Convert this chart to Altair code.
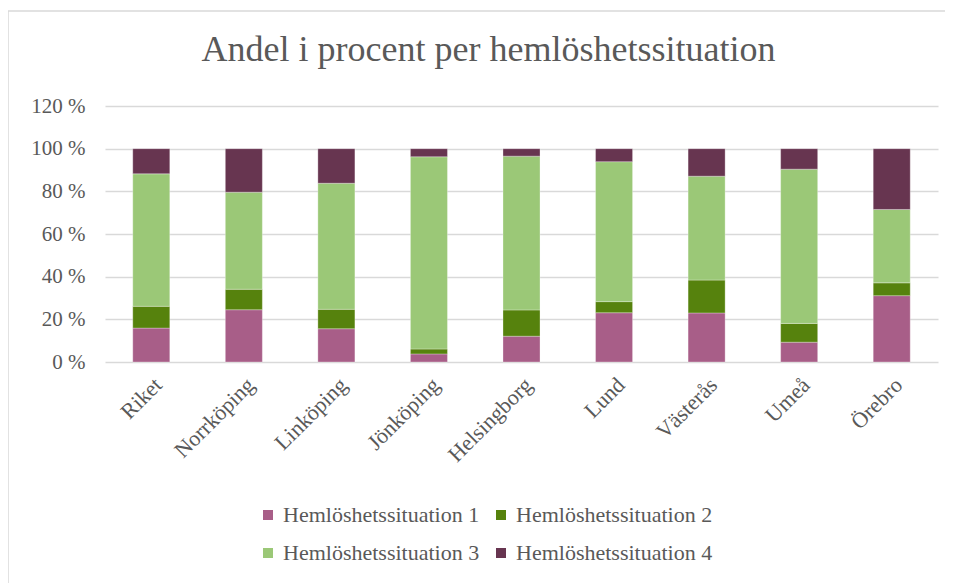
import altair as alt
import pandas as pd

categories = ["Riket", "Norrköping", "Linköping", "Jönköping", "Helsingborg",
              "Lund", "Västerås", "Umeå", "Örebro"]
series_names = ["Hemlöshetssituation 1", "Hemlöshetssituation 2",
                "Hemlöshetssituation 3", "Hemlöshetssituation 4"]
s1 = [15.9, 24.5, 15.6, 3.8, 12.1, 23.1, 23.0, 9.3, 31.1]
s2 = [10.2, 9.6, 9.1, 2.3, 12.3, 5.2, 15.4, 8.8, 6.0]
s3 = [62.1, 45.5, 59.1, 90.1, 72.1, 65.6, 48.7, 72.3, 34.4]
s4 = [11.8, 20.4, 16.2, 3.8, 3.5, 6.1, 12.9, 9.6, 28.5]
y_ticks = [0, 20, 40, 60, 80, 100, 120]
colors = ["#A85E88", "#56820D", "#9BC877", "#673550"]

rows = []
for i, name in enumerate(series_names):
    vals = [s1, s2, s3, s4][i]
    for c, v in zip(categories, vals):
        rows.append({"kategori": c, "serie": name, "idx": i, "andel": v})
df = pd.DataFrame(rows)

FONT = "Liberation Serif"
GRAY = "#595959"

bars = alt.Chart(df).mark_bar(stroke="#ffffff", strokeWidth=0.6, strokeOpacity=0.5).encode(
    x=alt.X("kategori:N", sort=categories,
            scale=alt.Scale(paddingInner=0.6, paddingOuter=0.3),
            axis=alt.Axis(title=None, labelAngle=-45, labelFontSize=22,
                          labelColor=GRAY, labelFont=FONT, ticks=False,
                          domain=False, labelPadding=12)),
    y=alt.Y("andel:Q", stack="zero",
            scale=alt.Scale(domain=[0, 120], nice=False),
            axis=alt.Axis(title=None, values=y_ticks, labelFontSize=21,
                          labelColor=GRAY, labelFont=FONT, ticks=False,
                          domain=False, labelPadding=20,
                          labelExpr="datum.value + ' %'",
                          gridColor="#D9D9D9", gridWidth=1.5)),
    color=alt.Color("serie:N", sort=series_names,
                    scale=alt.Scale(domain=series_names, range=colors),
                    legend=alt.Legend(title=None, orient="none", legendX=152,
                                      legendY=398, columns=2, direction="horizontal",
                                      symbolType="square", symbolSize=100,
                                      symbolStrokeWidth=0, labelFont=FONT,
                                      labelFontSize=22, labelColor=GRAY,
                                      labelLimit=400,
                                      columnPadding=10, rowPadding=16,
                                      labelOffset=4)),
    order=alt.Order("idx:Q", sort="ascending"),
)

border_left = alt.Chart().mark_rule(color="#D9D9D9", strokeWidth=1.5).encode(
    x=alt.value(-97), y=alt.value(-95), y2=alt.value(480))
border_top = alt.Chart().mark_rule(color="#D9D9D9", strokeWidth=1.5).encode(
    x=alt.value(-97), x2=alt.value(850), y=alt.value(-95))

chart = alt.layer(bars, border_left, border_top).properties(
    width=833, height=256,
    autosize=alt.AutoSizeParams(type="none"),
    padding={"left": 97, "top": 98, "right": 7, "bottom": 221},
    title=alt.Title("Andel i procent per hemlöshetssituation", font=FONT,
                    fontSize=36, fontWeight="normal", color=GRAY,
                    anchor="middle", frame="group", dx=-33, offset=-59),
).configure_view(stroke=None)

chart.save("out.html", embed_options={"renderer": "svg", "actions": False})
